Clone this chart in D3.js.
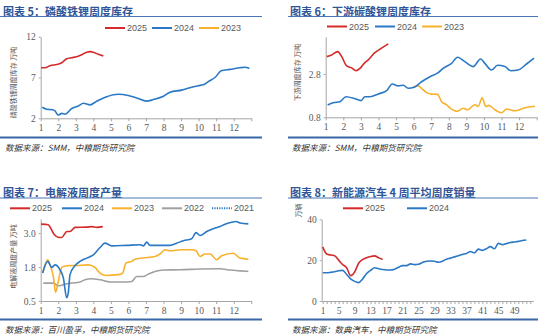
<!DOCTYPE html>
<html><head><meta charset="utf-8">
<script src="https://cdn.jsdelivr.net/npm/d3@7"></script>
<style>
html,body{margin:0;padding:0;background:#fff;}
svg{display:block;}
.title{font-family:"Noto Sans CJK SC",sans-serif;font-weight:700;font-size:11px;fill:#2f5597;}
.src{font-family:"Noto Sans CJK SC",sans-serif;font-style:italic;font-size:8.5px;fill:#333;}
.leg{font-family:"Liberation Sans Narrow","Arial Narrow","Liberation Sans",sans-serif;font-size:9px;fill:#595959;}
.tick text{font-family:"Liberation Serif","Times New Roman",serif;font-size:9.5px;fill:#595959;}
.ylab{font-family:"Noto Sans CJK SC",sans-serif;font-size:7px;fill:#595959;}
</style>
</head><body>
<svg id="c" width="550" height="335"></svg>
<script>
// ---------- Data ----------
const months = [1,2,3,4,5,6,7,8,9,10,11,12];
const monthTicks = [1,2,3,4,5,6,7,8,9,10,11,12,13];
const weekTicks = d3.range(1,54);
const weekLabels = [1,5,9,13,17,21,25,29,33,37,41,45,49];

// Chart 5: LFP weekly inventory
const c5_2025_x = [1.02,1.25,1.53,1.91,2.2,2.48,2.77,3.05,3.34,3.62,3.81,4.0,4.28,4.57];
const c5_2025_y = [8.2,8.2,8.45,8.6,8.8,9.3,9.43,9.55,9.8,10.1,10.17,10.1,9.85,9.65];
const c5_2024_x = [1.09,1.34,1.68,1.81,2.0,2.2,2.38,2.77,3.14,3.43,3.81,4.19,4.76,5.42,5.99,6.47,7.04,7.42,7.99,8.37,9.03,9.6,9.98,10.26,10.55,10.93,11.31,11.79,12.36,12.64,12.89];
const c5_2024_y = [3.35,3.1,3.05,2.9,2.4,2.6,2.5,3.2,3.5,3.85,3.65,4.1,4.65,4.95,4.8,4.5,4.1,4.3,4.7,5.2,5.45,5.8,6.0,6.1,6.5,7.0,7.85,8.0,8.2,8.25,8.1];
const c5_yTicks = [2,7,12];

// Chart 6: downstream lithium carbonate inventory
const c6_2025_x = [1.06,1.34,1.68,1.91,2.19,2.48,2.72,2.95,3.19,3.42,3.76,4.09,4.56];
const c6_2025_y = [3.6,3.68,3.83,3.6,3.17,3.08,2.95,3.06,3.29,3.45,3.76,3.95,4.19];
const c6_2024_x = [1.11,1.43,1.81,2.15,2.67,3.01,3.23,3.52,3.99,4.47,4.78,5.13,5.41,5.69,6.03,6.45,6.93,7.4,7.68,8.16,8.5,8.91,9.39,9.81,10.05,10.43,10.77,11.19,11.53,11.94,12.42,12.85];
const c6_2024_y = [1.37,1.47,1.52,1.75,1.66,1.57,1.75,1.75,1.88,2.03,2.34,2.25,2.28,2.14,2.19,2.44,2.67,2.86,3.06,3.29,3.57,3.37,3.14,3.49,3.29,2.98,3.2,3.14,2.95,2.98,3.26,3.53];
const c6_2023_x = [5.98,6.26,6.45,6.74,7.02,7.36,7.59,7.88,8.06,8.5,8.82,9.07,9.48,9.67,9.9,10.1,10.28,10.62,11.0,11.28,11.76,12.33,12.9];
const c6_2023_y = [2.19,2.25,2.14,1.94,1.87,1.86,1.52,1.37,1.24,1.08,1.22,1.15,1.38,1.3,1.7,1.3,1.35,1.15,1.01,1.18,1.1,1.24,1.31];
const c6_yTicks = [0.8,2.8];

// Chart 7: electrolyte weekly output
const c7_2025_x = [1.02,1.43,1.57,1.78,2.0,2.2,2.49,2.67,2.96,3.63,3.91,4.2,4.54];
const c7_2025_y = [3.33,3.31,3.18,2.94,2.85,2.84,3.06,3.06,3.21,3.22,3.24,3.21,3.24];
const c7_2024_x = [1.11,1.4,1.63,1.81,2.1,2.29,2.48,2.57,2.67,2.95,3.24,3.62,4.0,4.38,4.66,5.05,5.9,6.66,6.85,7.04,7.23,7.8,8.37,8.75,9.13,9.6,9.85,10.08,10.46,10.83,11.22,11.5,11.88,12.13,12.36,12.83];
const c7_2024_y = [1.53,1.96,1.74,1.83,1.65,1.35,0.62,0.8,1.47,1.8,1.96,2.08,2.2,2.47,2.63,2.53,2.55,2.57,2.53,2.67,2.55,2.55,2.55,2.63,2.72,2.79,3.02,2.91,3.06,3.16,3.24,3.33,3.4,3.43,3.37,3.34];
const c7_2023_x = [1.11,1.4,1.53,1.72,1.85,2.0,2.2,2.48,3.05,3.71,4.09,4.38,4.76,5.42,5.67,5.86,6.19,6.37,7.04,7.51,7.8,8.08,8.37,9.03,9.6,9.85,10.08,10.36,10.65,11.03,11.31,11.97,12.36,12.83];
const c7_2023_y = [1.53,2.02,1.83,1.4,0.82,1.22,1.74,1.8,1.81,1.83,1.74,1.53,1.44,1.47,1.53,1.9,1.96,2.04,2.1,2.14,2.23,2.39,2.35,2.39,2.39,2.35,2.14,2.23,2.23,2.02,2.17,2.26,2.08,2.04];
const c7_2022_x = [1.15,1.72,2.0,2.38,2.77,3.24,3.52,3.91,4.38,4.95,5.71,6.19,6.47,6.85,7.13,7.51,7.99,8.94,10.08,11.22,11.79,12.36,12.83];
const c7_2022_y = [1.16,1.16,1.06,1.12,1.16,1.2,1.28,1.32,1.28,1.2,1.2,1.22,1.4,1.4,1.49,1.59,1.64,1.65,1.68,1.69,1.64,1.61,1.59];
const c7_yTicks = [0.5,1.75,3.0];
const c7_yLabels = ["0.5","1.8","3.0"];

// Chart 8: NEV 4-week average weekly sales (10k units)
const c8_2025 = [26.5,23.0,22.5,22.2,20.0,17.8,16.3,12.4,14.2,18.5,20.3,21.2,21.8,22.1,21.2,20.3];
const c8_2024 = [13.8,13.8,14.0,14.3,14.8,15.0,13.0,10.8,9.6,9.0,10.8,13.5,15.0,16.3,15.8,15.4,15.2,15.2,15.6,16.5,17.3,17.3,18.2,17.8,18.0,18.8,19.5,19.6,19.5,19.0,19.5,20.5,21.0,21.6,22.2,22.8,23.3,24.2,23.6,25.4,24.8,25.6,26.6,25.6,28.2,27.6,28.1,28.6,28.9,29.2,29.6,29.9];
const c8_yTicks = [0,20,40];

const COL = {r2025:"#d42a2a", b2024:"#2a78c6", o2023:"#f7b12a", g2022:"#a0a0a0", d2021:"#2a78c6"};

// ---------- Drawing ----------
const svg = d3.select("#c");

function header(x0, x1, tx, ty, title, ruleY, srcY, src){
  svg.append("text").attr("class","title").attr("x",tx).attr("y",ty).attr("dominant-baseline","central").text(title);
  svg.append("line").attr("x1",x0).attr("x2",x1).attr("y1",ty+6).attr("y2",ty+6).attr("stroke","#4a76b8").attr("stroke-width",1);
  svg.append("line").attr("x1",x0).attr("x2",x1).attr("y1",ruleY).attr("y2",ruleY).attr("stroke","#3a66a8").attr("stroke-width",2.2);
  svg.append("text").attr("class","src").attr("x",tx+2).attr("y",srcY).attr("dominant-baseline","central").text(src);
}

function legend(items, y){
  items.forEach(it=>{
    svg.append("line").attr("x1",it.x).attr("x2",it.x+20).attr("y1",y).attr("y2",y)
      .attr("stroke",it.c).attr("stroke-width",2).attr("stroke-dasharray",it.dash||null);
    svg.append("text").attr("class","leg").attr("x",it.x+22).attr("y",y).attr("dominant-baseline","central").text(it.t);
  });
}

function axes(x, y, yTicks, yFmt, xTicks, xFmt){
  const [x0] = x.range(); const [yb, yt] = y.range();
  const gy = svg.append("g").attr("transform",`translate(${x0},0)`)
    .call(d3.axisLeft(y).tickValues(yTicks).tickSize(2).tickSizeOuter(0).tickPadding(3).tickFormat(yFmt));
  const gx = svg.append("g").attr("transform",`translate(0,${yb})`)
    .call(d3.axisBottom(x).tickValues(xTicks).tickSize(3).tickSizeOuter(0).tickPadding(3).tickFormat(xFmt));
  [gy,gx].forEach(g=>{ g.select(".domain").attr("stroke","#a6a6a6"); g.selectAll(".tick line").attr("stroke","#a6a6a6"); });
}

function series(x, y, xs, ys, color, w){
  const line = d3.line().x(d=>x(d[0])).y(d=>y(d[1])).curve(d3.curveMonotoneX);
  svg.append("path").datum(xs.map((v,i)=>[v,ys[i]])).attr("d",line)
    .attr("fill","none").attr("stroke",color).attr("stroke-width",w||1.6).attr("stroke-linejoin","round");
}

function ylab(x, yc, text){
  svg.append("text").attr("class","ylab").attr("transform",`translate(${x},${yc}) rotate(-90)`)
    .attr("text-anchor","middle").attr("dominant-baseline","central").text(text);
}

const monthFmt = d => d<=12 ? d : "";

// Chart 5
{
  header(0,262,3,10.5,"图表 5：磷酸铁锂周度库存",137.5,147,"数据来源：SMM，中粮期货研究院");
  legend([{x:105,c:COL.r2025,t:"2025"},{x:152,c:COL.b2024,t:"2024"},{x:199,c:COL.o2023,t:"2023"}],28);
  const x = d3.scaleLinear().domain([1,13]).range([40.7,251.3]);
  const y = d3.scaleLinear().domain([2,12]).range([118.3,36.7]);
  axes(x,y,c5_yTicks,d3.format("d"),monthTicks,monthFmt);
  ylab(12.5,82.5,"磷酸铁锂周度库存 万吨");
  series(x,y,c5_2024_x,c5_2024_y,COL.b2024);
  series(x,y,c5_2025_x,c5_2025_y,COL.r2025);
}
// Chart 6
{
  header(288,538,290,10.5,"图表 6：下游碳酸锂周度库存",137.5,147,"数据来源：SMM，中粮期货研究院");
  legend([{x:327,c:COL.r2025,t:"2025"},{x:375,c:COL.b2024,t:"2024"},{x:422,c:COL.o2023,t:"2023"}],26.5);
  const x = d3.scaleLinear().domain([1,13]).range([325.7,536.7]);
  const y = d3.scaleLinear().domain([0.8,4.52]).range([117.3,36.7]);
  axes(x,y,c6_yTicks,d3.format(".1f"),monthTicks,monthFmt);
  ylab(296.5,72.5,"下游周度库存 万吨");
  series(x,y,c6_2023_x,c6_2023_y,COL.o2023);
  series(x,y,c6_2024_x,c6_2024_y,COL.b2024);
  series(x,y,c6_2025_x,c6_2025_y,COL.r2025);
}
// Chart 7
{
  header(0,262,3,192,"图表 7：电解液周度产量",319.5,329,"数据来源：百川盈孚，中粮期货研究院");
  legend([{x:10,c:COL.r2025,t:"2025"},{x:62,c:COL.b2024,t:"2024"},{x:112,c:COL.o2023,t:"2023"},{x:162,c:COL.g2022,t:"2022"},{x:212,c:COL.d2021,t:"2021",dash:"1.2,1.2"}],208.3);
  const x = d3.scaleLinear().domain([1,13]).range([40.7,251.3]);
  const y = d3.scaleLinear().domain([0.5,3.52]).range([301,219]);
  axes(x,y,c7_yTicks,(d,i)=>c7_yLabels[i],monthTicks,monthFmt);
  ylab(12.5,256.5,"电解液周度产量 万吨");
  series(x,y,c7_2022_x,c7_2022_y,COL.g2022);
  series(x,y,c7_2023_x,c7_2023_y,COL.o2023);
  series(x,y,c7_2024_x,c7_2024_y,COL.b2024);
  series(x,y,c7_2025_x,c7_2025_y,COL.r2025);
}
// Chart 8
{
  header(288,538,290,192,"图表 8：新能源汽车 4 周平均周度销量",319.5,329,"数据来源：数典汽车，中粮期货研究院");
  legend([{x:343,c:COL.r2025,t:"2025"},{x:407,c:COL.b2024,t:"2024"}],208.3);
  const x = d3.scaleLinear().domain([0.75,53.75]).range([321.7,533.3]);
  const y = d3.scaleLinear().domain([0,40]).range([301,219.3]);
  axes(x,y,c8_yTicks,d3.format("d"),weekTicks,d=>weekLabels.includes(d)?d:"");
  ylab(298,210.5,"万辆");
  series(x,y,c8_2024.map((v,i)=>i+1),c8_2024,COL.b2024);
  series(x,y,c8_2025.map((v,i)=>i+1),c8_2025,COL.r2025);
}
</script>
</body></html>
